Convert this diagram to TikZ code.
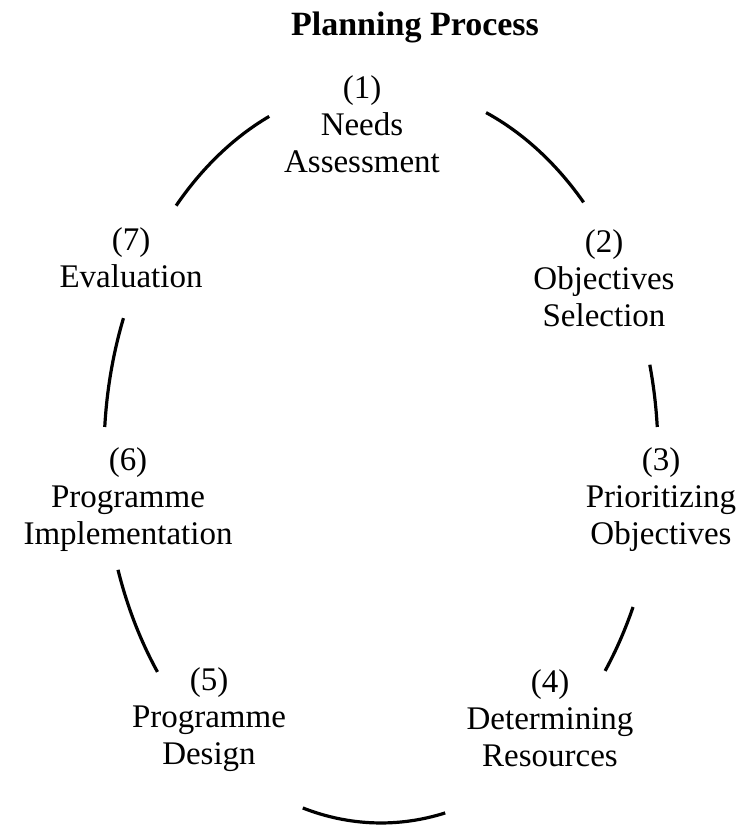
\documentclass[tikz,border=0pt]{standalone}
\usepackage{fontspec}
\setmainfont{Liberation Serif}
\begin{document}
\begin{tikzpicture}[x=1pt,y=1pt,
  lbl/.style={inner sep=0pt, align=center, font=\fontsize{33}{37}\selectfont},
  ttl/.style={inner sep=0pt, font=\fontsize{34}{40}\selectfont\bfseries},
  ring/.style={line width=3.2pt}]
\useasboundingbox (0,0) rectangle (744,825);
\coordinate (c) at (381,371);
\node[ttl] (title) at (415,798) {Planning Process};
\node[lbl] (n1) at (362,701) {(1)\\Needs\\Assessment};
\node[lbl] (n2) at (604,547) {(2)\\Objectives\\Selection};
\node[lbl] (n3) at (661,325) {(3)\\Prioritizing\\Objectives};
\node[lbl] (n4) at (550,107) {(4)\\Determining\\Resources};
\node[lbl] (n5) at (209,105) {(5)\\Programme\\Design};
\node[lbl] (n6) at (128,325) {(6)\\Programme\\Implementation};
\node[lbl] (n7) at (131,567) {(7)\\Evaluation};
\draw[ring] (c) ++(113.8:277 and 369) arc[start angle=113.8, end angle=137.7, x radius=277, y radius=369];
\draw[ring] (c) ++(67.7:277 and 369) arc[start angle=67.7, end angle=43, x radius=277, y radius=369];
\draw[ring] (c) ++(14:277 and 369) arc[start angle=14, end angle=4.2, x radius=277, y radius=369];
\draw[ring] (c) ++(-24.5:277 and 369) arc[start angle=-24.5, end angle=-36, x radius=277, y radius=369];
\draw[ring] (c) ++(253.6:277 and 369) arc[start angle=253.6, end angle=283.4, x radius=277, y radius=369];
\draw[ring] (c) ++(198.3:277 and 369) arc[start angle=198.3, end angle=216.2, x radius=277, y radius=369];
\draw[ring] (c) ++(158.4:277 and 369) arc[start angle=158.4, end angle=175.8, x radius=277, y radius=369];
\end{tikzpicture}
\end{document}
